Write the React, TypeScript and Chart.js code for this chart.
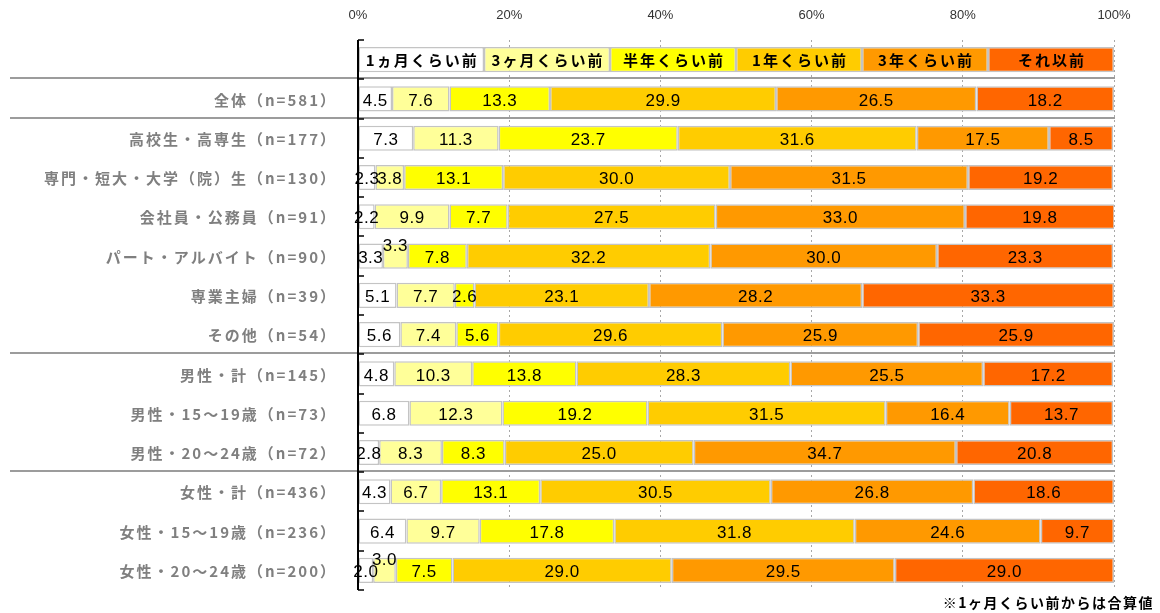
import React, { useEffect, useRef } from "react";
import { Chart, registerables } from "chart.js";

Chart.register(...registerables);

// ---------- data ----------
const seriesNames = ["1ヵ月くらい前", "3ヶ月くらい前", "半年くらい前", "1年くらい前", "3年くらい前", "それ以前"];

const categories = [
  "全体（n=581）",
  "高校生・高専生（n=177）",
  "専門・短大・大学（院）生（n=130）",
  "会社員・公務員（n=91）",
  "パート・アルバイト（n=90）",
  "専業主婦（n=39）",
  "その他（n=54）",
  "男性・計（n=145）",
  "男性・15～19歳（n=73）",
  "男性・20～24歳（n=72）",
  "女性・計（n=436）",
  "女性・15～19歳（n=236）",
  "女性・20～24歳（n=200）",
];

const oneMonth = [4.5, 7.3, 2.3, 2.2, 3.3, 5.1, 5.6, 4.8, 6.8, 2.8, 4.3, 6.4, 2.0];
const threeMonths = [7.6, 11.3, 3.8, 9.9, 3.3, 7.7, 7.4, 10.3, 12.3, 8.3, 6.7, 9.7, 3.0];
const halfYear = [13.3, 23.7, 13.1, 7.7, 7.8, 2.6, 5.6, 13.8, 19.2, 8.3, 13.1, 17.8, 7.5];
const oneYear = [29.9, 31.6, 30.0, 27.5, 32.2, 23.1, 29.6, 28.3, 31.5, 25.0, 30.5, 31.8, 29.0];
const threeYears = [26.5, 17.5, 31.5, 33.0, 30.0, 28.2, 25.9, 25.5, 16.4, 34.7, 26.8, 24.6, 29.5];
const earlier = [18.2, 8.5, 19.2, 19.8, 23.3, 33.3, 25.9, 17.2, 13.7, 20.8, 18.6, 9.7, 29.0];

const seriesValues = [oneMonth, threeMonths, halfYear, oneYear, threeYears, earlier];

const xTickValues = [0, 20, 40, 60, 80, 100];
const footNote = "※1ヶ月くらい前からは合算値";

// rows (key row = 0, then categories) after which a group separator is drawn
const groupBreaksAfter = [0, 1, 7, 10];

// ---------- styles ----------
const seriesColors = ["#FFFFFF", "#FFFF99", "#FFFF00", "#FFCC00", "#FF9900", "#FF6600"];
const CJK = '"Noto Sans CJK JP", "Noto Sans", sans-serif';
const NUM = '"Liberation Sans", Arial, sans-serif';

const keyShare = 100 / seriesNames.length;
const rowLabels = ["", ...categories];

const overlayPlugin = {
  id: "overlay",
  afterDatasetsDraw(chart: any) {
    const ctx = chart.ctx as CanvasRenderingContext2D;
    const { left, right, top, bottom } = chart.chartArea;
    const y = chart.scales.y;
    const nRows = rowLabels.length;
    ctx.save();

    // group separators
    ctx.strokeStyle = "#9c9c9c";
    ctx.lineWidth = 2;
    for (const r of groupBreaksAfter) {
      const py = Math.round(y.getPixelForValue(r + 0.5)) - 1;
      ctx.beginPath();
      ctx.moveTo(10, py);
      ctx.lineTo(right + 1, py);
      ctx.stroke();
    }

    // axis line + inward ticks
    ctx.strokeStyle = "#000";
    ctx.lineWidth = 2;
    ctx.beginPath();
    ctx.moveTo(left, top);
    ctx.lineTo(left, bottom);
    ctx.stroke();
    ctx.lineWidth = 1.5;
    for (let i = 0; i <= nRows; i++) {
      const py = Math.round(y.getPixelForValue(i - 0.5));
      ctx.beginPath();
      ctx.moveTo(left, py);
      ctx.lineTo(left + 6, py);
      ctx.stroke();
    }

    // category labels
    (ctx as any).letterSpacing = "2px";
    ctx.font = `bold 15px ${CJK}`;
    ctx.fillStyle = "#7f7f7f";
    ctx.textAlign = "right";
    ctx.textBaseline = "middle";
    for (let i = 1; i < nRows; i++) {
      ctx.fillText(rowLabels[i], left - 21, y.getPixelForValue(i) + 1);
    }

    // data labels
    const metas = chart.data.datasets.map((_: any, di: number) => chart.getDatasetMeta(di));
    for (let j = 0; j < nRows; j++) {
      if (j === 0) {
        ctx.font = `bold 15px ${CJK}`;
        ctx.fillStyle = "#000";
        ctx.textAlign = "center";
        (ctx as any).letterSpacing = "2px";
        metas.forEach((meta: any, di: number) => {
          const b = meta.data[j].getProps(["x", "base", "y"], true);
          ctx.fillText(seriesNames[di], (b.x + b.base) / 2 + 1, b.y + 1);
        });
        continue;
      }
      (ctx as any).letterSpacing = "0.5px";
      ctx.font = `17px ${NUM}`;
      ctx.fillStyle = "#000";
      ctx.textAlign = "center";
      const narrow: boolean[] = [];
      metas.forEach((meta: any, di: number) => {
        const b = meta.data[j].getProps(["x", "base", "y"], true);
        const v = chart.data.datasets[di].data[j] as number;
        const txt = v.toFixed(1);
        const lw = ctx.measureText(txt).width;
        const w = Math.abs(b.x - b.base);
        narrow[di] = w < lw + 2;
        const raise = di > 0 && narrow[di] && narrow[di - 1];
        ctx.fillText(txt, (b.x + b.base) / 2, b.y + 2 - (raise ? 12 : 0));
      });
    }

    // foot note
    (ctx as any).letterSpacing = "1.5px";
    ctx.font = `bold 14px ${CJK}`;
    ctx.fillStyle = "#000";
    ctx.textAlign = "right";
    ctx.textBaseline = "middle";
    ctx.fillText(footNote, chart.width - 6, 603);
    ctx.restore();
  },
};

export default function App() {
  const canvasRef = useRef<HTMLCanvasElement | null>(null);

  useEffect(() => {
    if (!canvasRef.current) return;
    const datasets = seriesNames.map((name, i) => ({
      label: name,
      data: [keyShare, ...seriesValues[i]],
      backgroundColor: seriesColors[i],
      borderColor: "#c4c4c4",
      borderWidth: 1.5,
      borderSkipped: false as const,
      categoryPercentage: 1,
      barPercentage: 0.64,
    }));

    const chart = new Chart(canvasRef.current, {
      type: "bar",
      data: { labels: rowLabels, datasets },
      options: {
        indexAxis: "y",
        animation: false,
        responsive: true,
        maintainAspectRatio: false,
        layout: { padding: { left: 0, right: 46, top: 0, bottom: 23 } },
        plugins: { legend: { display: false }, tooltip: { enabled: false } },
        scales: {
          x: {
            position: "top",
            stacked: true,
            min: 0,
            max: 100,
            afterBuildTicks: (s: any) => {
              s.ticks = xTickValues.map((v) => ({ value: v }));
            },
            afterFit: (s: any) => {
              s.height = 40;
            },
            ticks: {
              callback: (v: any) => `${v}%`,
              font: { family: NUM, size: 13 },
              color: "#333",
              padding: 17,
              maxRotation: 0,
            },
            grid: {
              color: "#a8a8a8",
              lineWidth: 1,
              drawTicks: false,
            },
            border: { display: false, dash: [2, 3] },
          },
          y: {
            stacked: true,
            afterFit: (s: any) => {
              s.width = 358;
            },
            ticks: { display: false },
            grid: { display: false, drawTicks: false },
            border: { display: false },
          },
        },
      },
      plugins: [overlayPlugin],
    });
    return () => chart.destroy();
  }, []);

  return (
    <div style={{ position: "absolute", left: 0, top: 0, width: 1160, height: 613, background: "#fff" }}>
      <canvas ref={canvasRef} />
    </div>
  );
}
